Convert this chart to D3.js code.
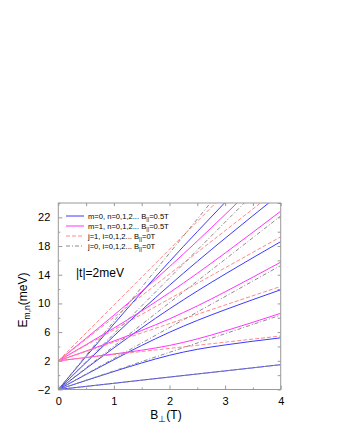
<!DOCTYPE html>
<html>
<head>
<meta charset="utf-8">
<script src="https://cdn.jsdelivr.net/npm/d3@7"></script>
<style>
  body { margin: 0; background: #fff; }
  svg { display: block; }
</style>
</head>
<body>
<div id="canvas"></div>
<script>
// Data
const fieldB = [0, 0.5, 1, 1.5, 2, 2.5, 3, 3.5, 4];

// m=0 levels, n=0..5 (blue)
const blueLevels = [
  [-2, -1.57, -1.14, -0.70, -0.27, 0.16, 0.59, 1.02, 1.46],
  [-2, -0.74, 0.51, 1.70, 2.77, 3.60, 4.21, 4.73, 5.20],
  [-2, 0.10, 2.16, 4.14, 5.98, 7.63, 9.12, 10.53, 11.90],
  [-2, 0.93, 3.81, 6.59, 9.24, 11.73, 14.09, 16.37, 18.61],
  [-2, 1.77, 5.47, 9.07, 12.53, 15.86, 19.08, 22.23, 25.34],
  [-2, 2.60, 7.13, 11.55, 15.84, 20.01, 24.09, 28.11, 32.09]
];

// m=1 levels, n=1..4 (magenta)
const magentaLevels = [
  [2, 2.46, 2.95, 3.48, 4.14, 5.05, 6.16, 7.37, 8.62],
  [2, 3.36, 4.76, 6.23, 7.85, 9.65, 11.61, 13.66, 15.75],
  [2, 4.25, 6.56, 8.96, 11.50, 14.20, 17.02, 19.92, 22.86],
  [2, 5.15, 8.36, 11.67, 15.12, 18.70, 22.39, 26.15, 29.96]
];

// B_par = 0 levels: straight lines, values at B=0 and B=4
const lineEnds = [0, 4];
const pinkLevels = [
  [2, 5.46], [2, 12.37], [2, 19.28], [2, 26.19], [2, 33.10]
];
const grayLevels = [
  [-2, 1.46], [-2, 8.37], [-2, 15.28], [-2, 22.19], [-2, 29.10], [-2, 36.02]
];

// Ticks
const xTicks = [0, 1, 2, 3, 4];
const xMinor = [0.5, 1.5, 2.5, 3.5];
const yTicks = [-2, 2, 6, 10, 14, 18, 22];
const yMinor = [0, 4, 8, 12, 16, 20, 24];

// Legend
const legendItems = [
  { label: "m=0, n=0,1,2... B", tail: "=0.5T", color: "#3a3aff", dash: null },
  { label: "m=1, n=0,1,2... B", tail: "=0.5T", color: "#ff33ff", dash: null },
  { label: "j=1, i=0,1,2... B", tail: "=0T", color: "#ff8a8a", dash: "4,2" },
  { label: "j=0, i=0,1,2... B", tail: "=0T", color: "#8c8c8c", dash: "4,2,1,2" }
];

// Constants
const w = 340;
const h = 440;
const plotLeft = 58.3, plotRight = 280.7, plotTop = 203, plotBottom = 389.5;
const font = "'Liberation Sans', Arial, Helvetica, sans-serif";

const x = d3.scaleLinear().domain([0, 4]).range([plotLeft, plotRight]);
const y = d3.scaleLinear().domain([-2, 24]).range([plotBottom, plotTop]);

const svg = d3.select("#canvas").append("svg")
  .attr("width", w)
  .attr("height", h)
  .style("background-color", "white");

svg.append("clipPath").attr("id", "plot-clip")
  .append("rect")
  .attr("x", plotLeft).attr("y", plotTop)
  .attr("width", plotRight - plotLeft).attr("height", plotBottom - plotTop);

const plot = svg.append("g").attr("clip-path", "url(#plot-clip)");

const curve = d3.line()
  .x((d, i) => x(fieldB[i]))
  .y(d => y(d))
  .curve(d3.curveMonotoneX);

const straight = d3.line()
  .x((d, i) => x(lineEnds[i]))
  .y(d => y(d));

// Lines
plot.selectAll(".blue").data(blueLevels).join("path")
  .attr("class", "blue")
  .attr("d", curve)
  .attr("fill", "none")
  .attr("stroke", legendItems[0].color)
  .attr("stroke-width", 1);

plot.selectAll(".magenta").data(magentaLevels).join("path")
  .attr("class", "magenta")
  .attr("d", curve)
  .attr("fill", "none")
  .attr("stroke", legendItems[1].color)
  .attr("stroke-width", 1);

plot.selectAll(".pink").data(pinkLevels).join("path")
  .attr("class", "pink")
  .attr("d", straight)
  .attr("fill", "none")
  .attr("stroke", legendItems[2].color)
  .attr("stroke-dasharray", legendItems[2].dash)
  .attr("stroke-width", 1);

plot.selectAll(".gray").data(grayLevels).join("path")
  .attr("class", "gray")
  .attr("d", straight)
  .attr("fill", "none")
  .attr("stroke", legendItems[3].color)
  .attr("stroke-dasharray", legendItems[3].dash)
  .attr("stroke-width", 1);

// Axes (ticks pointing inside)
function styleAxis(g) {
  g.select(".domain").remove();
  g.selectAll(".tick line").attr("stroke", "#999");
  g.selectAll(".tick text")
    .attr("fill", "black")
    .style("font-family", font)
    .style("font-size", "11px");
}

svg.append("g").attr("transform", `translate(0,${plotBottom})`)
  .call(d3.axisBottom(x).tickValues(xTicks).tickSize(-4).tickPadding(8).tickFormat(d3.format("d")))
  .call(styleAxis);
svg.append("g").attr("transform", `translate(0,${plotBottom})`)
  .call(d3.axisBottom(x).tickValues(xMinor).tickSize(-2).tickFormat(""))
  .call(styleAxis);
svg.append("g").attr("transform", `translate(0,${plotTop})`)
  .call(d3.axisTop(x).tickValues(xTicks.concat(xMinor)).tickSize(-3).tickFormat(""))
  .call(styleAxis);

svg.append("g").attr("transform", `translate(${plotLeft},0)`)
  .call(d3.axisLeft(y).tickValues(yTicks).tickSize(-4).tickPadding(8).tickFormat(d3.format("d")))
  .call(styleAxis);
svg.append("g").attr("transform", `translate(${plotLeft},0)`)
  .call(d3.axisLeft(y).tickValues(yMinor).tickSize(-2).tickFormat(""))
  .call(styleAxis);
svg.append("g").attr("transform", `translate(${plotRight},0)`)
  .call(d3.axisRight(y).tickValues(yTicks.concat(yMinor)).tickSize(-3).tickFormat(""))
  .call(styleAxis);

// Frame
svg.append("rect")
  .attr("x", plotLeft).attr("y", plotTop)
  .attr("width", plotRight - plotLeft).attr("height", plotBottom - plotTop)
  .attr("fill", "none")
  .attr("stroke", "#999")
  .attr("stroke-width", 1);

// Legend
const legend = svg.append("g").attr("class", "legend");
legendItems.forEach((item, i) => {
  const ly = 216 + i * 10;
  legend.append("line")
    .attr("x1", 66).attr("x2", 84)
    .attr("y1", ly).attr("y2", ly)
    .attr("stroke", item.color)
    .attr("stroke-dasharray", item.dash)
    .attr("stroke-width", 1);
  const t = legend.append("text")
    .attr("x", 88).attr("y", ly + 2.8)
    .style("font-family", font)
    .style("font-size", "7.6px")
    .attr("fill", "black");
  t.append("tspan").text(item.label);
  t.append("tspan").attr("dy", 2).style("font-size", "5.5px").text("||");
  t.append("tspan").attr("dy", -2).text(item.tail);
});

// |t| annotation
svg.append("text")
  .attr("x", 76).attr("y", 277)
  .style("font-family", font)
  .style("font-size", "12px")
  .text("|t|=2meV");

// Axis labels
const xl = svg.append("text")
  .attr("x", 166).attr("y", 419)
  .attr("text-anchor", "middle")
  .style("font-family", font)
  .style("font-size", "12px");
xl.append("tspan").text("B");
xl.append("tspan").attr("dy", 3).style("font-size", "9px").text("\u22A5");
xl.append("tspan").attr("dy", -3).text("(T)");

const yl = svg.append("text")
  .attr("transform", "translate(27,300) rotate(-90)")
  .attr("text-anchor", "middle")
  .style("font-family", font)
  .style("font-size", "12px");
yl.append("tspan").text("E");
yl.append("tspan").attr("dy", 3).style("font-size", "8.5px").text("m,n");
yl.append("tspan").attr("dy", -3).text("(meV)");
</script>
</body>
</html>
